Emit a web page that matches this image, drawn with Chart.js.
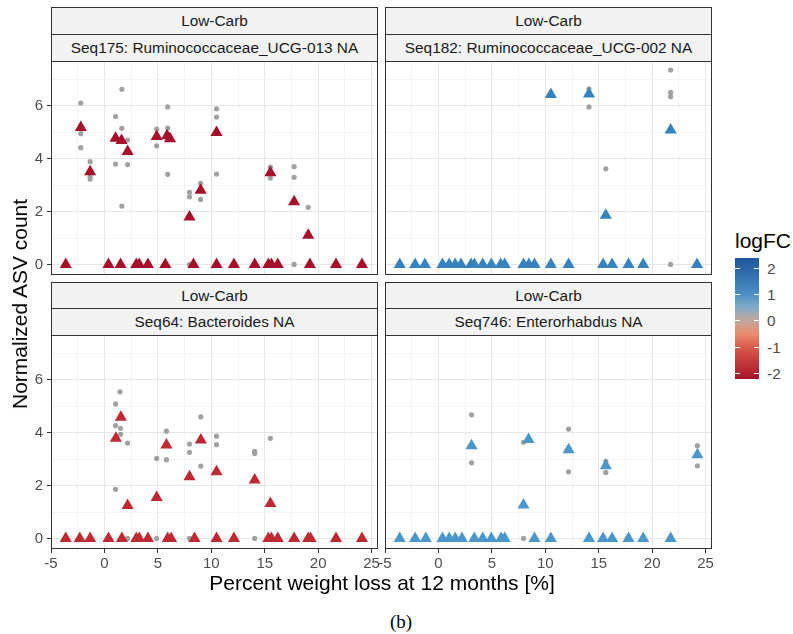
<!DOCTYPE html>
<html lang="en">
<head>
<meta charset="UTF-8">
<title>Normalized ASV count vs weight loss</title>
<script src="https://cdn.jsdelivr.net/npm/chart.js"></script>
<style>
  body { margin: 0; background: #fff; font-family: "Liberation Sans", Arial, sans-serif; }
  #wrap { position: relative; width: 793px; height: 634px; overflow: hidden; }
  canvas { position: absolute; }
  .strip {
    position: absolute; box-sizing: border-box; height: 28px; width: 327px;
    border: 1px solid #333; background: #f2f2f2; color: #1a1a1a;
    font-size: 15.4px; line-height: 26px; text-align: center; white-space: nowrap;
  }
  .axis-title { position: absolute; font-size: 21px; color: #000; white-space: nowrap; }
  #ytitle { left: 20px; top: 304px; transform: translate(-50%, -50%) rotate(-90deg); }
  #xtitle { left: 382px; top: 583px; transform: translate(-50%, -50%); }
  #caption { position: absolute; left: 401px; top: 622px; transform: translate(-50%, -50%);
    font-family: "Liberation Serif", "DejaVu Serif", serif; font-size: 19px; }
  #legTitle { position: absolute; left: 735px; top: 241px; transform: translateY(-50%); font-size: 21px; }
  #legBar { position: absolute; left: 735px; top: 258px; width: 24px; height: 121px; }
  .legTick { position: absolute; height: 1px; width: 5px; background: #fff; }
  .legLab { position: absolute; left: 767px; font-size: 15.4px; color: #4d4d4d; transform: translateY(-50%); }
</style>
</head>
<body>
<div id="wrap">
  <div class="strip" style="left:51px; top:7px;">Low-Carb</div>
  <div class="strip" style="left:51px; top:34px;">Seq175: Ruminococcaceae_UCG-013 NA</div>
  <div class="strip" style="left:385px; top:7px;">Low-Carb</div>
  <div class="strip" style="left:385px; top:34px;">Seq182: Ruminococcaceae_UCG-002 NA</div>
  <div class="strip" style="left:51px; top:282px;">Low-Carb</div>
  <div class="strip" style="left:51px; top:308px;">Seq64: Bacteroides NA</div>
  <div class="strip" style="left:385px; top:282px;">Low-Carb</div>
  <div class="strip" style="left:385px; top:308px;">Seq746: Enterorhabdus NA</div>

  <canvas id="c175" width="383" height="219" style="left:0; top:56px;"></canvas>
  <canvas id="c182" width="345" height="219" style="left:372px; top:56px;"></canvas>
  <canvas id="c64" width="383" height="255" style="left:0; top:330px;"></canvas>
  <canvas id="c746" width="345" height="255" style="left:372px; top:330px;"></canvas>

  <div id="ytitle" class="axis-title">Normalized ASV count</div>
  <div id="xtitle" class="axis-title">Percent weight loss at 12 months [%]</div>
  <div id="caption">(b)</div>

  <div id="legTitle">logFC</div>
  <div id="legBar"></div>
</div>

<script>
// grid values (labels only on the majors)
const xGrid = [-5, -2.5, 0, 2.5, 5, 7.5, 10, 12.5, 15, 17.5, 20, 22.5, 25];
const yGrid = [0, 1, 2, 3, 4, 5, 6, 7];
const xRange = [-5, 25.6];
const yRange = [-0.4, 7.7];

// legend colour bar
const legendTicks = [2, 1, 0, -1, -2];
const legendRange = [2.38, -2.23];
const legendStops = [
  [2.38, '#1d5a9f'], [2, '#2b63a6'], [1, '#4a90c4'], [0.5, '#82abc8'],
  [0, '#c2a79c'], [-0.5, '#ec8c6e'], [-1, '#d95c4c'], [-1.5, '#c63d3c'],
  [-2, '#b32230'], [-2.23, '#a6102b']
];

// Seq175: Ruminococcaceae_UCG-013
const seq175MeanX = [-3.62, -2.21, -1.34, 0.38, 1.04, 1.51, 1.6, 2.17, 2.98, 3.26, 4.07, 4.89, 5.7, 5.86, 6.14, 7.96,
  8.33, 9.0, 10.49, 10.49, 12.12, 14.06, 15.34, 15.53, 15.63, 16.22, 17.75, 19.07, 19.23, 21.67, 24.1];
const seq175MeanY = [0, 5.18, 3.51, 0, 4.78, 0, 4.69, 4.27, 0, 0, 0, 4.84, 0, 4.87, 4.76, 1.8,
  0, 2.81, 4.99, 0, 0, 0, 0, 3.47, 0, 0, 2.37, 1.1, 0, 0, 0];
const seq175SampleX = [-2.21, -2.21, -2.21, -1.34, -1.34, -1.34, 1.04, 1.04, 1.63, 1.63, 1.63, 2.17, 2.17,
  4.89, 4.89, 5.92, 5.92, 5.92, 7.96, 7.96, 7.96, 9.0, 9.0, 10.49, 10.49, 10.49, 15.53, 15.53, 17.75, 17.75, 17.75, 19.07];
const seq175SampleY = [6.11, 4.95, 4.42, 3.89, 3.32, 3.23, 5.6, 3.8, 6.63, 5.15, 2.21, 4.71, 3.78,
  5.12, 4.49, 5.96, 5.16, 3.41, 2.73, 2.56, 0, 3.07, 2.46, 5.89, 5.58, 3.42, 3.68, 3.27, 3.7, 3.3, 0, 2.16];

// Seq182: Ruminococcaceae_UCG-002
const seq182MeanX = [-3.62, -2.18, -1.27, 0.38, 1.01, 1.57, 2.11, 3.05, 3.36, 4.14, 4.95, 5.83, 6.2, 7.96,
  8.46, 8.99, 10.52, 10.52, 12.18, 14.09, 15.41, 15.66, 16.25, 17.79, 19.16, 21.73, 24.2];
const seq182MeanY = [0, 0, 0, 0, 0, 0, 0, 0, 0, 0, 0, 0, 0, 0,
  0, 0, 0, 6.43, 0, 6.45, 0, 1.86, 0, 0, 0, 5.09, 0];
const seq182SampleX = [14.09, 14.09, 15.66, 21.73, 21.73, 21.73, 21.73];
const seq182SampleY = [6.65, 5.96, 3.62, 7.36, 6.51, 6.35, 0];

// Seq64: Bacteroides
const seq64MeanX = [-3.62, -2.31, -1.34, 0.38, 1.07, 1.54, 1.63, 2.17, 2.98, 3.26, 4.07, 4.89, 5.8, 5.92, 6.24, 7.96,
  8.43, 9.02, 10.49, 10.49, 12.12, 14.06, 15.34, 15.53, 15.63, 16.22, 17.75, 19.07, 19.29, 21.67, 24.1];
const seq64MeanY = [0, 0, 0, 0, 3.79, 4.59, 0, 1.25, 0, 0, 0, 1.55, 3.54, 0, 0, 2.33,
  0, 3.73, 2.52, 0, 0, 2.21, 0, 1.32, 0, 0, 0, 0, 0, 0, 0];
const seq64SampleX = [1.45, 1.04, 1.04, 1.04, 1.51, 1.51, 2.17, 2.17, 4.89, 4.89, 5.8, 5.8, 7.96, 7.96, 7.96,
  9.02, 9.02, 10.49, 10.49, 14.06, 14.06, 14.06, 15.53];
const seq64SampleY = [5.55, 5.09, 4.27, 1.86, 4.17, 3.94, 3.61, 0, 3.03, 0, 4.06, 2.98, 3.57, 3.26, 0,
  4.6, 2.74, 3.87, 3.55, 3.3, 3.21, 0, 3.79];

// Seq746: Enterorhabdus
const seq746MeanX = [-3.62, -2.18, -1.18, 0.38, 1.01, 1.57, 2.2, 3.1, 3.36, 4.14, 4.95, 5.86, 6.2, 7.96, 8.43,
  8.99, 10.52, 12.18, 14.09, 15.41, 15.66, 16.25, 17.79, 19.16, 21.73, 24.23];
const seq746MeanY = [0, 0, 0, 0, 0, 0, 0, 3.51, 0, 0, 0, 0, 0, 1.27, 3.74,
  0, 0, 3.36, 0, 0, 2.75, 0, 0, 0, 0, 3.17];
const seq746SampleX = [3.1, 3.1, 7.96, 7.96, 12.18, 12.18, 15.66, 15.66, 24.23, 24.23];
const seq746SampleY = [4.68, 2.86, 3.64, 0, 4.14, 2.52, 2.92, 2.5, 3.51, 2.75];

const tickFont = { family: '"Liberation Sans", Arial, sans-serif', size: 15 };

// box around each panel, drawn over the points like ggplot's panel.border
const panelBorder = {
  id: 'panelBorder',
  afterDraw(chart) {
    const a = chart.chartArea, ctx = chart.ctx;
    ctx.save();
    ctx.strokeStyle = '#333';
    ctx.lineWidth = 1;
    ctx.strokeRect(a.left + 0.5, a.top + 0.5, a.width - 1, a.height - 1);
    ctx.restore();
  }
};

// keep the tick labels from pushing the plot area around
function noPadding(s) {
  s.paddingLeft = 0; s.paddingRight = 0; s.paddingTop = 0; s.paddingBottom = 0;
}

function isMajorX(v) { return Math.abs(v % 5) < 1e-9; }
function isMajorY(v) { return v % 2 === 0; }

function makePanel(id, meanX, meanY, sampX, sampY, color, showX, showY, pad) {
  const means = meanX.map((x, i) => ({ x: x, y: meanY[i] }));
  const samples = sampX.map((x, i) => ({ x: x, y: sampY[i] }));
  return new Chart(document.getElementById(id), {
    type: 'scatter',
    data: {
      datasets: [
        { data: means, pointStyle: 'triangle', pointRadius: 7, backgroundColor: color, borderWidth: 0 },
        { data: samples, pointStyle: 'circle', pointRadius: 2.6, backgroundColor: '#a1a1a1', borderWidth: 0 }
      ]
    },
    options: {
      responsive: false,
      animation: false,
      events: [],
      layout: { padding: pad, autoPadding: false },
      plugins: { legend: { display: false }, tooltip: { enabled: false } },
      scales: {
        x: {
          type: 'linear', min: xRange[0], max: xRange[1],
          afterBuildTicks: s => { s.ticks = xGrid.map(v => ({ value: v })); },
          afterFit: s => { s.height = showX ? 36 : 0; noPadding(s); },
          border: { display: false },
          grid: {
            color: c => isMajorX(c.tick.value) ? '#e6e6e6' : '#f3f3f3',
            lineWidth: 1,
            drawTicks: showX,
            tickLength: 4,
            tickColor: c => isMajorX(c.tick.value) ? '#333' : 'rgba(0,0,0,0)'
          },
          ticks: {
            display: showX, autoSkip: false, maxRotation: 0, padding: 2,
            color: '#4d4d4d', font: tickFont,
            callback: v => isMajorX(v) ? String(v) : ''
          }
        },
        y: {
          type: 'linear', min: yRange[0], max: yRange[1],
          afterBuildTicks: s => { s.ticks = yGrid.map(v => ({ value: v })); },
          afterFit: s => { s.width = showY ? 51 : 0; noPadding(s); },
          border: { display: false },
          grid: {
            color: c => isMajorY(c.tick.value) ? '#e6e6e6' : '#f3f3f3',
            lineWidth: 1,
            drawTicks: showY,
            tickLength: 4,
            tickColor: c => isMajorY(c.tick.value) ? '#333' : 'rgba(0,0,0,0)'
          },
          ticks: {
            display: showY, autoSkip: false, padding: 4,
            color: '#4d4d4d', font: tickFont,
            callback: v => isMajorY(v) ? String(v) : ''
          }
        }
      }
    },
    plugins: [panelBorder]
  });
}

makePanel('c175', seq175MeanX, seq175MeanY, seq175SampleX, seq175SampleY, '#a6102b', false, true,
  { top: 5, right: 5, left: 0, bottom: 0 });
makePanel('c182', seq182MeanX, seq182MeanY, seq182SampleX, seq182SampleY, '#3783bf', false, false,
  { top: 5, right: 5, left: 13, bottom: 0 });
makePanel('c64', seq64MeanX, seq64MeanY, seq64SampleX, seq64SampleY, '#bf2933', true, true,
  { top: 5, right: 5, left: 0, bottom: 0 });
makePanel('c746', seq746MeanX, seq746MeanY, seq746SampleX, seq746SampleY, '#4c97c9', true, false,
  { top: 5, right: 5, left: 13, bottom: 0 });

// colour bar legend
const bar = document.getElementById('legBar');
const barTop = 258, barH = 121;
const span = legendRange[0] - legendRange[1];
const pos = v => (legendRange[0] - v) / span;
bar.style.background = 'linear-gradient(to bottom, ' +
  legendStops.map(s => s[1] + ' ' + (pos(s[0]) * 100).toFixed(1) + '%').join(', ') + ')';
const wrap = document.getElementById('wrap');
legendTicks.forEach(v => {
  const y = Math.round(pos(v) * barH);
  [0, 19].forEach(dx => {
    const t = document.createElement('div');
    t.className = 'legTick';
    t.style.left = dx + 'px';
    t.style.top = y + 'px';
    bar.appendChild(t);
  });
  const lab = document.createElement('div');
  lab.className = 'legLab';
  lab.style.top = (barTop + y + 0.5) + 'px';
  lab.textContent = String(v);
  wrap.appendChild(lab);
});
</script>
</body>
</html>
